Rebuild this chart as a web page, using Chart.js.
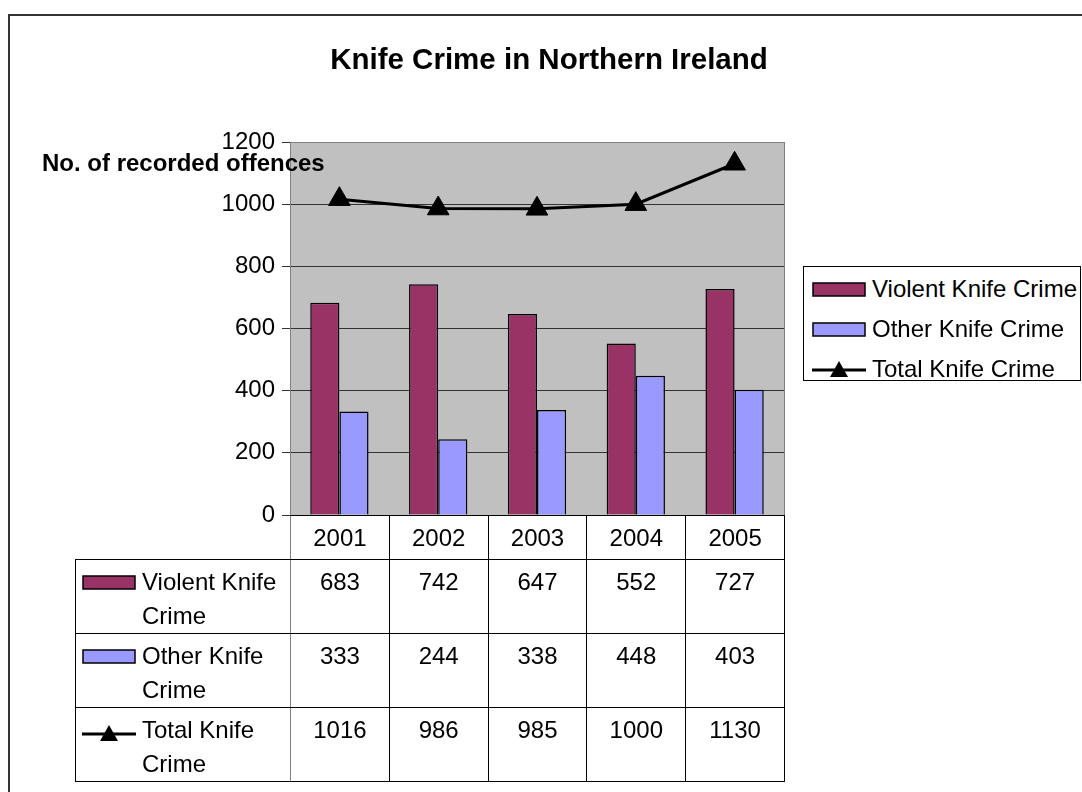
<!DOCTYPE html>
<html>
<head>
<meta charset="utf-8">
<script src="https://cdn.jsdelivr.net/npm/chart.js@4"></script>
<style>
  html, body { margin: 0; padding: 0; background: #fff; overflow: hidden; }
  body { width: 1082px; height: 792px; position: relative; font-family: "Liberation Sans", Arial, sans-serif; color: #000; }
  #frame { position: absolute; left: 8px; top: 14px; width: 2000px; height: 2000px; border-top: 2px solid #333; border-left: 2px solid #333; }
  #chart { position: absolute; left: 0; top: 0; }
  #title { position: absolute; top: 44px; left: 549px; transform: translateX(-50%); font-size: 29.5px; line-height: 29.5px; font-weight: bold; white-space: nowrap; }
  #ylabel { position: absolute; top: 151px; left: 42px; font-size: 24px; line-height: 24px; font-weight: bold; white-space: nowrap; }
  #legend { position: absolute; left: 803px; top: 266px; width: 276px; height: 113px; border: 1px solid #000; background: #fff; }
  .lrow { position: absolute; left: 8px; height: 40px; display: flex; align-items: center; font-size: 24px; white-space: nowrap; }
  .lrow svg { margin-right: 6px; }
  #dt { position: absolute; border-collapse: collapse; table-layout: fixed; font-size: 24px; line-height: 34px; }
  #dt td { border: 1px solid #000; padding: 0; text-align: center; vertical-align: top; }
  #dt tr.head td { height: 43px; vertical-align: middle; }
  #dt tr.head td.blank { border: none; }
  #dt tr.body td { height: 68px; padding-top: 5px; }
  #dt td.key { text-align: left; padding-left: 6px; border-right-color: #808080; }
  #dt td.yr0 { border-left-color: #808080; }
  .kcell { display: flex; align-items: flex-start; }
  .kcell svg { flex: none; margin-top: 10px; margin-right: 6px; }
</style>
</head>
<body>
<div id="frame"></div>
<canvas id="chart" width="1082" height="792"></canvas>
<div id="title">Knife Crime in Northern Ireland</div>
<div id="ylabel">No. of recorded offences</div>
<div id="legend"></div>
<table id="dt"></table>
<script>
const years = ['2001', '2002', '2003', '2004', '2005'];
const seriesNames = ['Violent Knife Crime', 'Other Knife Crime', 'Total Knife Crime'];
const violent = [683, 742, 647, 552, 727];
const other = [333, 244, 338, 448, 403];
const total = [1016, 986, 985, 1000, 1130];
const yMin = 0, yMax = 1200, yStep = 200;

const colViolent = '#993366';
const colOther = '#9999FF';

// small legend keys, same look in the legend box and the data table
function keySvg(kind, color) {
  if (kind === 'line') {
    return '<svg width="54" height="20"><line x1="0" y1="11" x2="54" y2="11" stroke="#000" stroke-width="3"/>' +
      '<polygon points="27,2 18,18 36,18" fill="#000"/></svg>';
  }
  return '<svg width="54" height="15"><rect x="1" y="1" width="52" height="13" fill="' + color + '" stroke="#000" stroke-width="1.5"/></svg>';
}

const bgPlugin = {
  id: 'plotBg',
  beforeDraw(chart) {
    const a = chart.chartArea, ctx = chart.ctx;
    ctx.save();
    ctx.fillStyle = '#C0C0C0';
    ctx.fillRect(a.left, a.top, a.right - a.left, a.bottom - a.top);
    ctx.restore();
  },
  afterDraw(chart) {
    const a = chart.chartArea, ctx = chart.ctx;
    ctx.save();
    ctx.strokeStyle = '#808080';
    ctx.lineWidth = 1;
    ctx.strokeRect(a.left + 0.5, a.top + 0.5, a.right - a.left, a.bottom - a.top);
    ctx.restore();
  }
};

const chart = new Chart(document.getElementById('chart').getContext('2d'), {
  data: {
    labels: years,
    datasets: [
      {
        type: 'line', label: seriesNames[2], data: total, order: 0,
        borderColor: '#000', borderWidth: 3, tension: 0,
        pointStyle: 'triangle', pointRadius: 12.5, pointBackgroundColor: '#000', pointBorderColor: '#000', pointBorderWidth: 1
      },
      {
        type: 'bar', label: seriesNames[0], data: violent, order: 1,
        backgroundColor: colViolent, borderColor: '#000', borderWidth: 1.5,
        barPercentage: 1, categoryPercentage: 0.59
      },
      {
        type: 'bar', label: seriesNames[1], data: other, order: 1,
        backgroundColor: colOther, borderColor: '#000', borderWidth: 1.5,
        barPercentage: 1, categoryPercentage: 0.59
      }
    ]
  },
  options: {
    responsive: false,
    animation: false,
    layout: { padding: { left: 200, right: 298, top: 142, bottom: 277 } },
    plugins: { legend: { display: false }, tooltip: { enabled: false } },
    scales: {
      x: { display: false, offset: true },
      y: {
        min: yMin, max: yMax,
        ticks: {
          stepSize: yStep, color: '#000', padding: 7,
          font: { family: '"Liberation Sans", Arial, sans-serif', size: 24 },
          callback: (v) => String(v)
        },
        grid: { color: '#333', lineWidth: 1, tickLength: 8, drawTicks: true },
        border: { color: '#555' },
        afterFit(scale) { scale.width = 90; }
      }
    }
  },
  plugins: [bgPlugin]
});

// legend box
const legend = document.getElementById('legend');
const legendKeys = [['bar', colViolent], ['bar', colOther], ['line', '#000']];
seriesNames.forEach((name, i) => {
  const row = document.createElement('div');
  row.className = 'lrow';
  row.style.top = (2 + i * 40) + 'px';
  row.innerHTML = keySvg(legendKeys[i][0], legendKeys[i][1]) + '<span>' + name + '</span>';
  legend.appendChild(row);
});

// data table under the plot, columns lined up with the category scale
const area = chart.chartArea;
const colW = (area.right - area.left) / years.length;
const keyW = 215;
const table = document.getElementById('dt');
table.style.left = (area.left - keyW) + 'px';
table.style.top = area.bottom + 'px';
table.style.width = (keyW + colW * years.length) + 'px';
let html = '<colgroup><col style="width:' + keyW + 'px">';
years.forEach(() => { html += '<col style="width:' + colW + 'px">'; });
html += '</colgroup><tr class="head"><td class="blank"></td>';
years.forEach((y, i) => { html += '<td' + (i === 0 ? ' class="yr0"' : '') + '>' + y + '</td>'; });
html += '</tr>';
const rows = [violent, other, total];
rows.forEach((vals, r) => {
  const parts = seriesNames[r].split(' ');
  const label = parts.slice(0, 2).join(' ') + '<br>' + parts.slice(2).join(' ');
  html += '<tr class="body"><td class="key"><div class="kcell">' + keySvg(legendKeys[r][0], legendKeys[r][1]) +
    '<span>' + label + '</span></div></td>';
  vals.forEach((v, i) => { html += '<td' + (i === 0 ? ' class="yr0"' : '') + '>' + v + '</td>'; });
  html += '</tr>';
});
table.innerHTML = html;
</script>
</body>
</html>
